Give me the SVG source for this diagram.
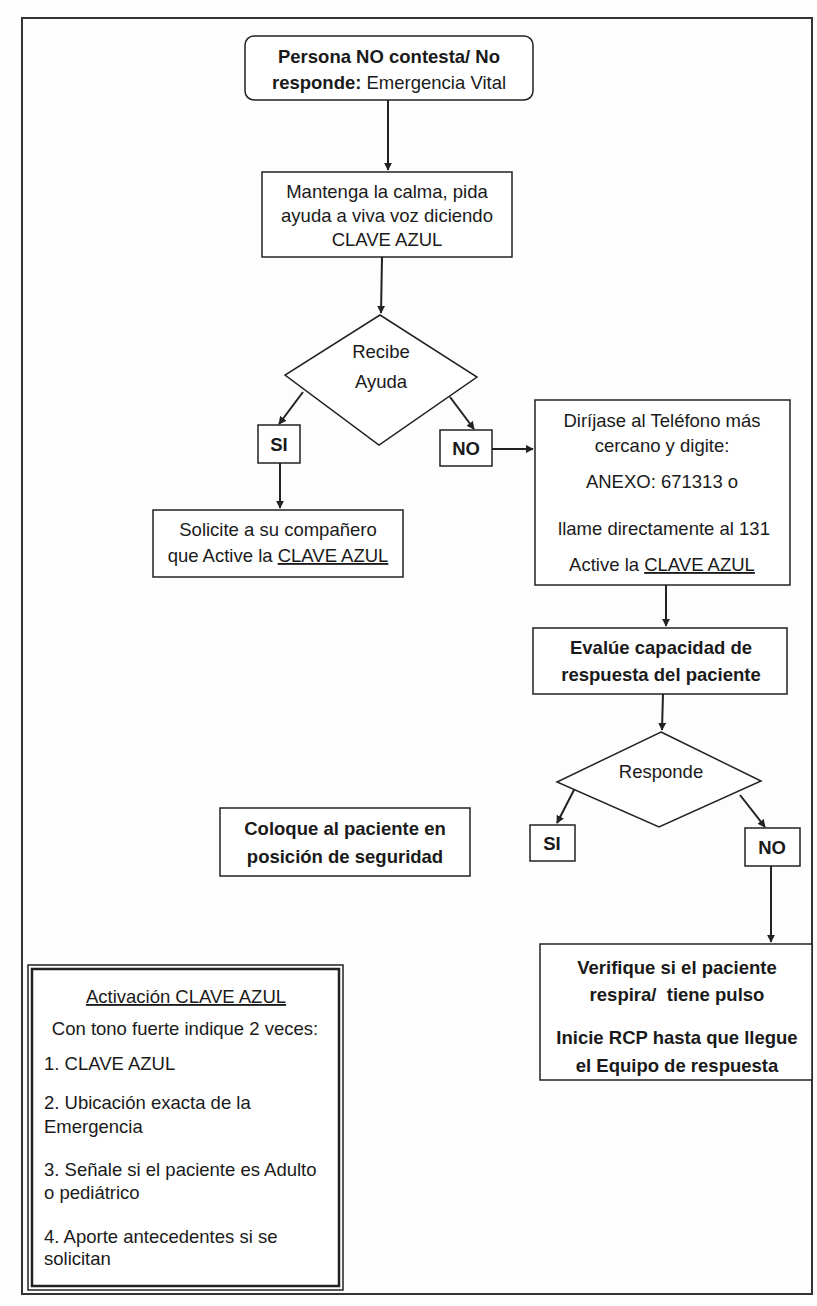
<svg xmlns="http://www.w3.org/2000/svg" width="817" height="1306" viewBox="0 0 817 1306">
<defs>
<marker id="ah" viewBox="0 0 10 10" refX="9" refY="5" markerWidth="8" markerHeight="8" markerUnits="userSpaceOnUse" orient="auto">
<path d="M0,0 L10,5 L0,10 z" fill="#222"/>
</marker>
<style>
.box{fill:#fff;stroke:#222;stroke-width:1.5}
.t{font-family:"Liberation Sans","DejaVu Sans",sans-serif;font-size:18.5px;fill:#1a1a1a;text-anchor:middle}
.l{text-anchor:start}
.b{font-weight:bold}
.c{fill:none;stroke:#222;stroke-width:2}
.u{text-decoration:underline}
</style>
</defs>
<rect x="0" y="0" width="817" height="1306" fill="#fdfdfd"/>
<rect x="22" y="18" width="790" height="1276" fill="none" stroke="#333" stroke-width="2"/>

<g id="connectors">
<line class="c" x1="388" y1="100" x2="388" y2="170" marker-end="url(#ah)"/>
<line class="c" x1="382" y1="257" x2="381" y2="313" marker-end="url(#ah)"/>
<line class="c" x1="303" y1="392" x2="279" y2="424" marker-end="url(#ah)"/>
<line class="c" x1="450" y1="397" x2="474" y2="429" marker-end="url(#ah)"/>
<line class="c" x1="492" y1="449" x2="533" y2="449" stroke-width="3.5" marker-end="url(#ah)"/>
<line class="c" x1="280" y1="463" x2="280" y2="508" marker-end="url(#ah)"/>
<line class="c" x1="666" y1="585" x2="666" y2="626" marker-end="url(#ah)"/>
<line class="c" x1="663" y1="694" x2="662" y2="730" marker-end="url(#ah)"/>
<line class="c" x1="575" y1="788" x2="557" y2="823" marker-end="url(#ah)"/>
<line class="c" x1="740" y1="795" x2="765" y2="827" marker-end="url(#ah)"/>
<line class="c" x1="771" y1="866" x2="771" y2="942" marker-end="url(#ah)"/>
</g>

<g id="start">
<rect class="box" x="245" y="36" width="288" height="64" rx="9"/>
<text class="t b" x="389" y="63">Persona NO contesta/ No</text>
<text class="t" x="389" y="89"><tspan class="b">responde:</tspan> Emergencia Vital</text>
</g>

<g id="calma">
<rect class="box" x="262" y="172" width="250" height="85"/>
<text class="t" x="387" y="198">Mantenga la calma, pida</text>
<text class="t" x="387" y="222">ayuda a viva voz diciendo</text>
<text class="t" x="387" y="246">CLAVE AZUL</text>
</g>

<g id="recibe">
<polygon class="box" points="380,315 477,377 379,445 285,375"/>
<text class="t" x="381" y="358">Recibe</text>
<text class="t" x="381" y="388">Ayuda</text>
</g>

<g id="si1">
<rect class="box" x="258" y="425" width="42" height="38"/>
<text class="t b" x="279" y="451">SI</text>
</g>

<g id="no1">
<rect class="box" x="440" y="430" width="52" height="36"/>
<text class="t b" x="466" y="455">NO</text>
</g>

<g id="solicite">
<rect class="box" x="153" y="510" width="250" height="67"/>
<text class="t" x="278" y="536">Solicite a su compañero</text>
<text class="t" x="278" y="562">que Active la <tspan class="u">CLAVE AZUL</tspan></text>
</g>

<g id="dirijase">
<rect class="box" x="535" y="400" width="255" height="185"/>
<text class="t" x="662" y="427">Diríjase al Teléfono más</text>
<text class="t" x="662" y="452">cercano y digite:</text>
<text class="t" x="662" y="488">ANEXO: 671313 o</text>
<text class="t" x="664" y="535">llame directamente al 131</text>
<text class="t" x="662" y="571">Active la <tspan class="u">CLAVE AZUL</tspan></text>
</g>

<g id="evalue">
<rect class="box" x="533" y="628" width="254" height="66"/>
<text class="t b" x="661" y="654">Evalúe capacidad de</text>
<text class="t b" x="661" y="681">respuesta del paciente</text>
</g>

<g id="responde">
<polygon class="box" points="661,732 761,781 659,827 557,782"/>
<text class="t" x="661" y="778">Responde</text>
</g>

<g id="si2">
<rect class="box" x="530" y="825" width="45" height="36"/>
<text class="t b" x="552" y="850">SI</text>
</g>

<g id="no2">
<rect class="box" x="745" y="828" width="55" height="38"/>
<text class="t b" x="772" y="854">NO</text>
</g>

<g id="coloque">
<rect class="box" x="220" y="808" width="250" height="68"/>
<text class="t b" x="345" y="835">Coloque al paciente en</text>
<text class="t b" x="345" y="863">posición de seguridad</text>
</g>

<g id="verifique">
<rect class="box" x="540" y="944" width="272" height="136"/>
<text class="t b" x="677" y="974">Verifique si el paciente</text>
<text class="t b" x="677" y="1001" xml:space="preserve">respira/  tiene pulso</text>
<text class="t b" x="677" y="1044">Inicie RCP hasta que llegue</text>
<text class="t b" x="677" y="1072">el Equipo de respuesta</text>
</g>

<g id="activacion">
<rect x="28" y="965" width="315" height="325" fill="#fff" stroke="#222" stroke-width="1.5"/>
<rect x="32" y="969" width="307" height="317" fill="none" stroke="#222" stroke-width="2.5"/>
<text class="t u" x="186" y="1003">Activación CLAVE AZUL</text>
<text class="t" x="185" y="1035">Con tono fuerte indique 2 veces:</text>
<text class="t l" x="44" y="1070">1. CLAVE AZUL</text>
<text class="t l" x="44" y="1109">2. Ubicación exacta de la</text>
<text class="t l" x="44" y="1133">Emergencia</text>
<text class="t l" x="44" y="1176">3. Señale si el paciente es Adulto</text>
<text class="t l" x="44" y="1199">o pediátrico</text>
<text class="t l" x="44" y="1243">4. Aporte antecedentes si se</text>
<text class="t l" x="44" y="1265">solicitan</text>
</g>
</svg>
